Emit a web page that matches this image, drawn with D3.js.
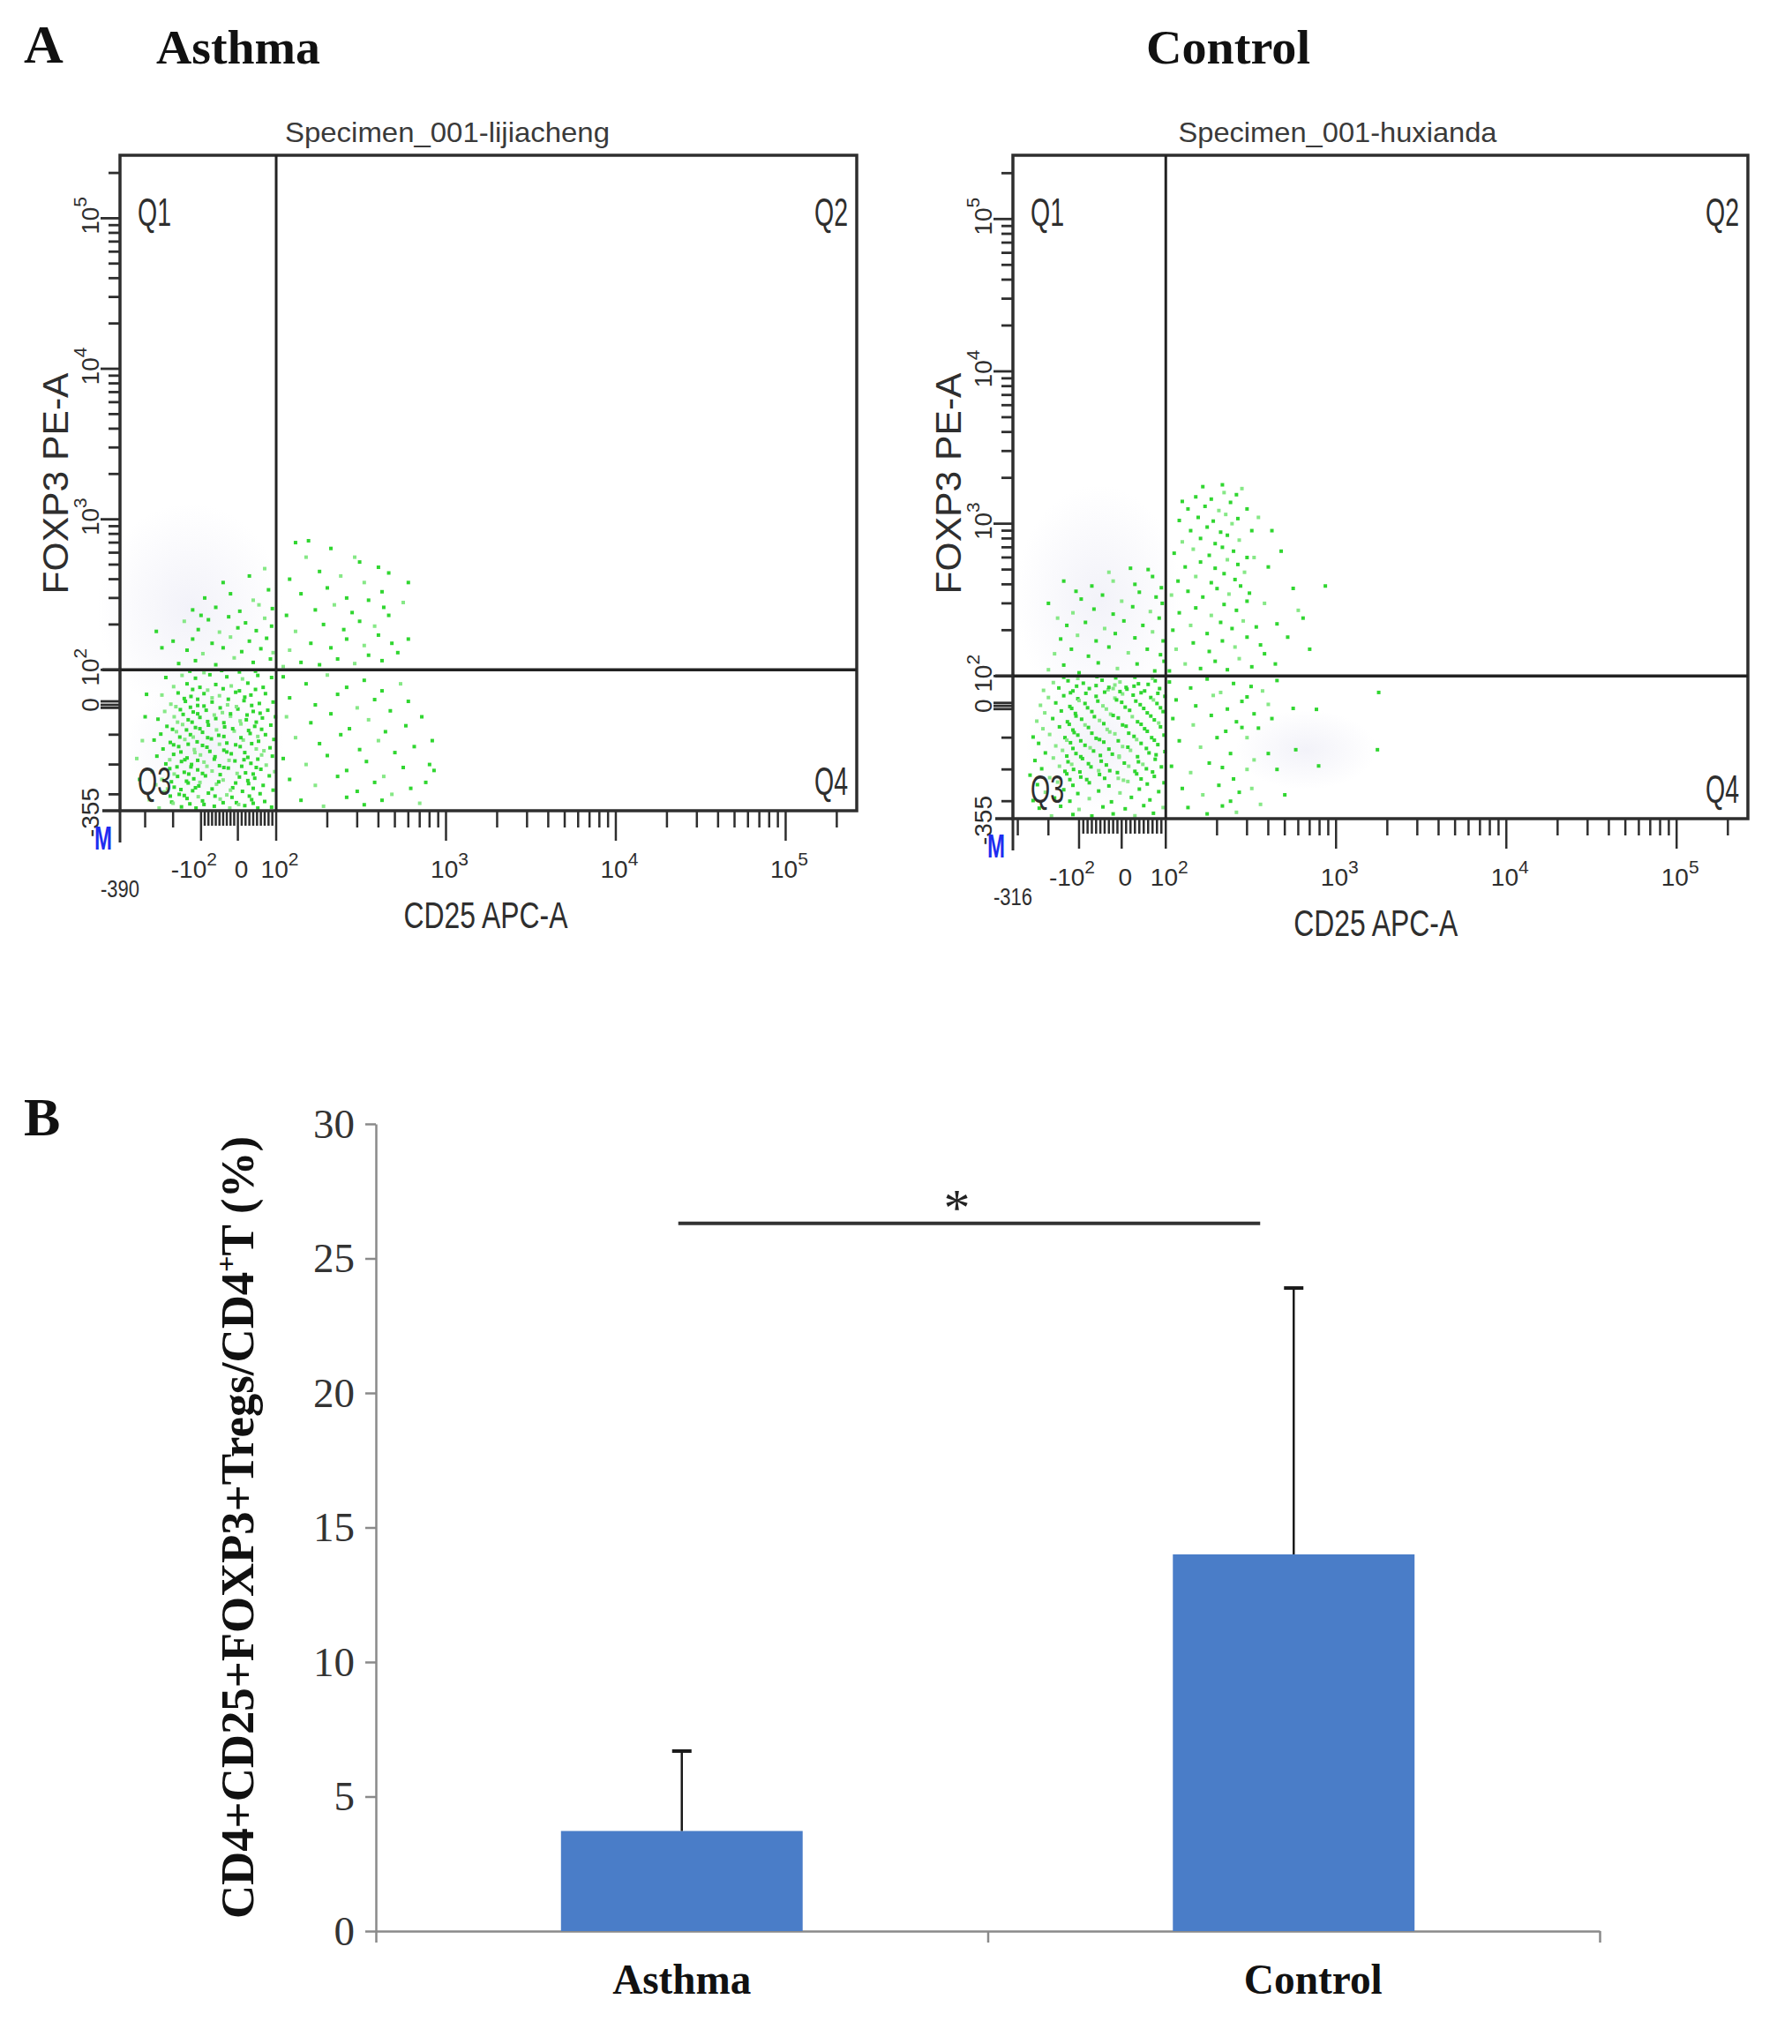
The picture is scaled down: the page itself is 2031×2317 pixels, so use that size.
<!DOCTYPE html>
<html>
<head>
<meta charset="utf-8">
<script src="https://cdn.jsdelivr.net/npm/d3@7"></script>
<style>
  body { margin: 0; background: #fff; }
  svg { display: block; }
</style>
</head>
<body>
<div id="figure"></div>
<script>
// ---------- panel B data ----------
var groups = ["Asthma", "Control"];
var meanValues = [3.72, 14.0];
var sdValues = [2.97, 9.9];
var yTicksB = [0, 5, 10, 15, 20, 25, 30];
var sigLevel = 26.3;
var sigLabel = "*";
var yTitleB = ["CD4+CD25+FOXP3+Tregs/CD4", "+", "T (%)"];

// ---------- panel A data ----------
var specimenTitles = ["Specimen_001-lijiacheng", "Specimen_001-huxianda"];
var quadrantNames = ["Q1", "Q2", "Q3", "Q4"];
var xAxisTitle = "CD25 APC-A";
var yAxisTitle = "FOXP3 PE-A";
var xMinValues = [-390, -316];
var yMinValue = -355;
var maxValue = 262144;
var gateValue = 100;
var xTickValues = [-100, 0, 100, 1000, 10000, 100000];
var xTickBase = ["-10", "0", "10", "10", "10", "10"];
var xTickExp = ["2", "", "2", "3", "4", "5"];
var yTickValues = [0, 100, 1000, 10000, 100000];
var yTickBase = ["0", "10", "10", "10", "10"];
var yTickExp = ["", "2", "3", "4", "5"];
var xLinMinor = [-300, -200];
var yLinMinor = [-100, -200, -300];

// events, [CD25, FOXP3]
var dotsAsthma = [
  // Q3
  [-250,-348],[-170,-342],[-118,-350],[-64,-340],[-22,-346],[18,-338],[52,-349],[88,-343],
  [-285,-318],[-205,-326],[-150,-314],[-96,-322],[-48,-316],[-4,-328],[36,-318],[70,-324],
  [-232,-292],[-178,-300],[-130,-288],[-80,-296],[-30,-302],[12,-290],[58,-298],[92,-286],
  [-262,-268],[-196,-276],[-146,-262],[-108,-272],[-58,-266],[-14,-278],[28,-264],[66,-270],
  [-240,-250],[-184,-240],[-126,-248],[-88,-238],[-40,-252],[4,-242],[44,-246],[82,-238],
  [-275,-224],[-212,-214],[-160,-226],[-112,-218],[-70,-222],[-26,-212],[20,-228],[60,-216],[96,-224],
  [-226,-198],[-170,-190],[-134,-200],[-92,-192],[-50,-204],[-8,-188],[34,-196],[74,-202],
  [-258,-172],[-198,-166],[-150,-178],[-102,-168],[-62,-174],[-18,-164],[26,-176],[62,-168],[90,-172],
  [-236,-148],[-180,-140],[-124,-150],[-84,-142],[-38,-152],[6,-140],[48,-148],[84,-144],
  [-268,-118],[-210,-126],[-158,-116],[-114,-124],[-72,-114],[-30,-128],[14,-118],[54,-122],[94,-116],
  [-244,-98],[-188,-90],[-138,-100],[-96,-92],[-52,-102],[-10,-88],[32,-96],[72,-100],
  [-222,-72],[-166,-66],[-120,-76],[-80,-68],[-36,-74],[8,-64],[44,-72],[86,-68],
  [-254,-48],[-196,-40],[-146,-50],[-104,-42],[-60,-46],[-20,-38],[22,-50],[64,-44],[98,-40],
  [-230,-22],[-174,-16],[-128,-24],[-86,-18],[-42,-26],[0,-14],[40,-22],[78,-18],
  [-208,2],[-156,10],[-112,-2],[-70,8],[-28,0],[16,12],[56,4],[92,8],
  [-240,28],[-182,34],[-136,24],[-92,32],[-50,26],[-6,36],[34,28],[72,32],
  [-198,52],[-150,60],[-104,50],[-60,58],[-18,54],[26,62],[66,50],
  [-226,78],[-168,84],[-120,76],[-76,86],[-30,80],[12,74],[52,84],[88,78],
  [-140,96],[-92,92],[-44,98],[4,94],[46,96],
  [-200,-330],[-140,-332],[-92,-334],[-40,-328],[2,-334],[40,-330],
  [-210,-306],[-160,-304],[-110,-308],[-62,-306],[-16,-310],[30,-306],
  [-220,-282],[-172,-284],[-120,-278],[-70,-282],[-20,-286],[40,-280],
  [-206,-258],[-152,-256],[-104,-260],[-52,-258],[-6,-262],[26,-254],
  [-196,-232],[-144,-232],[-96,-230],[-48,-234],[-2,-230],[40,-232],
  [-186,-208],[-136,-208],[-84,-206],[-38,-210],[10,-206],[48,-210],
  [-212,-184],[-158,-184],[-112,-186],[-64,-182],[-24,-186],[16,-184],[52,-182],
  [-172,-158],[-122,-160],[-76,-156],[-30,-158],[18,-160],[68,-154],
  [-198,-134],[-146,-132],[-96,-136],[-50,-132],[-6,-134],[36,-130],
  [-176,-108],[-128,-108],[-82,-110],[-38,-106],[8,-110],[52,-106],
  [-202,-82],[-152,-84],[-104,-80],[-58,-84],[-14,-80],[28,-86],[62,-82],
  [-184,-58],[-132,-58],[-82,-56],[-38,-60],[6,-54],[48,-58],
  [-164,-32],[-112,-30],[-64,-34],[-20,-30],[24,-34],[58,-28],
  [-190,-6],[-138,-8],[-92,-4],[-48,-10],[-4,-6],[36,-2],
  [-160,18],[-112,16],[-70,20],[-26,16],[18,22],
  [-130,44],[-82,42],[-40,46],[4,40],[46,44],
  [-310,-120],[-300,-40],[-320,-250],[-295,30],[-330,-180],
  // Q1
  [-180,110],[-120,115],[-60,108],[-10,120],[40,112],[85,118],
  [-150,135],[-95,128],[-40,140],[10,132],[60,138],[92,130],
  [-200,155],[-130,160],[-70,150],[-20,165],[30,155],[75,162],
  [-110,185],[-50,178],[0,190],[48,182],[88,195],
  [-160,210],[-80,215],[-25,225],[20,205],[70,220],
  [-130,250],[-60,260],[5,245],[55,270],[90,255],
  [-90,300],[-20,320],[40,290],[80,340],
  [-40,380],[30,420],[70,470],[-100,230],[-240,140],[-260,180],
  // Q2
  [110,105],[140,112],[180,108],[230,118],[290,110],[350,125],[420,115],[520,130],
  [120,135],[160,150],[210,140],[260,160],[330,145],[400,170],[480,150],[600,160],
  [130,180],[190,200],[250,185],[310,210],[380,195],[460,230],
  [115,230],[170,250],[220,270],[280,240],[350,290],[430,260],[560,280],
  [140,320],[200,350],[260,300],[330,380],[420,330],
  [120,400],[180,450],[240,420],[310,520],[400,480],[600,380],
  [150,560],[210,640],[130,700],[155,720],[290,560],[460,440],
  // Q4
  [110,80],[150,60],[200,85],[260,50],[330,70],[420,40],[540,60],
  [120,20],[170,0],[230,30],[300,-10],[380,15],[470,-20],[600,10],
  [115,-40],[160,-60],[210,-30],[270,-80],[350,-50],[440,-90],[580,-70],[720,-40],
  [130,-110],[180,-130],[240,-100],[310,-150],[400,-120],[500,-160],[650,-140],
  [110,-180],[150,-200],[200,-170],[260,-220],[340,-190],[430,-240],[560,-210],[800,-200],
  [120,-250],[170,-270],[230,-240],[300,-290],[380,-260],[480,-300],[620,-280],[850,-220],
  [140,-320],[190,-340],[260,-310],[330,-335],[420,-320],[700,-330],[760,-260],[830,-120]
];

var dotsControl = [
  // Q3
  [-190,-348],[-120,-342],[-70,-350],[-20,-340],[30,-346],[72,-338],
  [-230,-322],[-160,-316],[-100,-326],[-44,-318],[8,-324],[50,-314],[94,-320],
  [-250,-298],[-180,-290],[-130,-300],[-76,-292],[-24,-302],[22,-288],[64,-296],
  [-210,-272],[-150,-264],[-104,-276],[-54,-268],[-4,-274],[40,-262],[84,-270],
  [-236,-248],[-170,-240],[-120,-250],[-76,-242],[-30,-252],[14,-238],[58,-246],[96,-242],
  [-260,-218],[-196,-226],[-140,-214],[-96,-224],[-52,-216],[-8,-228],[34,-214],[74,-222],
  [-222,-198],[-164,-190],[-118,-200],[-72,-192],[-28,-204],[16,-190],[56,-198],[90,-192],
  [-244,-172],[-184,-164],[-136,-176],[-92,-166],[-48,-174],[-6,-162],[38,-176],[76,-168],
  [-210,-148],[-154,-140],[-110,-150],[-66,-142],[-22,-152],[20,-140],[62,-148],[98,-144],
  [-232,-118],[-176,-126],[-128,-116],[-86,-124],[-42,-114],[2,-128],[44,-118],[82,-122],
  [-250,-98],[-196,-90],[-146,-100],[-104,-92],[-60,-102],[-16,-88],[28,-96],[68,-100],[96,-92],
  [-218,-72],[-164,-66],[-120,-76],[-78,-68],[-34,-74],[10,-64],[52,-72],[88,-66],
  [-238,-48],[-186,-40],[-138,-50],[-94,-42],[-52,-46],[-8,-38],[36,-50],[74,-44],
  [-212,-22],[-158,-16],[-112,-24],[-70,-18],[-26,-26],[18,-14],[58,-22],[94,-18],
  [-226,2],[-176,10],[-130,-2],[-86,8],[-44,0],[0,12],[42,4],[80,8],
  [-200,28],[-150,34],[-104,24],[-60,32],[-16,26],[26,36],[66,28],[98,32],
  [-216,52],[-166,60],[-120,50],[-76,58],[-32,54],[10,62],[52,50],[86,58],
  [-184,78],[-136,84],[-90,76],[-46,86],[-4,80],[38,74],[76,84],
  [-150,96],[-104,92],[-58,98],[-14,94],[30,96],[70,92],
  [-130,-232],[-82,-232],[-40,-228],[4,-234],[44,-230],
  [-146,-206],[-98,-208],[-54,-204],[-10,-210],[30,-206],[70,-208],
  [-124,-184],[-78,-182],[-36,-186],[6,-180],[48,-184],
  [-140,-158],[-96,-160],[-50,-156],[-6,-158],[36,-160],[78,-154],
  [-120,-134],[-74,-132],[-30,-136],[14,-130],[56,-134],
  [-140,-108],[-96,-110],[-52,-106],[-8,-110],[34,-106],[74,-108],
  [-116,-84],[-70,-86],[-28,-82],[16,-86],[58,-80],
  [-132,-58],[-86,-60],[-42,-56],[2,-60],[44,-58],[84,-54],
  [-110,-32],[-64,-34],[-20,-30],[24,-34],[66,-32],
  [-124,-8],[-80,-6],[-36,-10],[8,-4],[50,-8],[88,-6],
  [-100,18],[-56,16],[-12,20],[32,16],[72,20],
  [-128,44],[-84,42],[-40,46],[2,40],[44,44],[82,42],
  [-60,68],[-16,70],[28,66],[60,72],[-108,66],
  [-20,58],[-4,48],[-30,62],[12,56],
  // Q1
  [-200,110],[-150,118],[-100,105],[-55,122],[-10,112],[35,120],[75,108],[96,125],
  [-180,140],[-125,150],[-78,135],[-30,155],[15,142],[58,150],[88,138],
  [-160,175],[-105,185],[-60,170],[-15,190],[30,178],[70,195],[94,170],
  [-140,215],[-85,225],[-40,205],[5,230],[48,215],[85,240],
  [-120,260],[-65,275],[-20,255],[25,285],[65,265],[92,300],
  [-95,320],[-45,340],[0,310],[40,355],[78,330],
  [-70,390],[-20,420],[30,400],[70,450],[90,380],
  [-30,480],[20,510],[60,500],[-110,360],[-170,240],[-200,300],[-150,420],
  // Q2
  [105,108],[130,120],[160,112],[195,125],[230,110],[270,130],[320,115],[380,140],[440,120],
  [115,150],[145,165],[180,145],[215,170],[255,155],[300,180],[360,160],
  [110,200],[140,215],[175,190],[210,225],[245,205],[285,230],[340,210],
  [120,260],[150,280],[185,250],[220,295],[260,270],[300,310],
  [108,340],[135,360],[165,330],[200,375],[235,345],[275,390],[310,350],
  [118,420],[150,450],[185,410],[220,470],[255,430],[290,480],
  [130,520],[160,560],[195,510],[230,580],[265,540],[300,600],
  [112,640],[145,680],[180,620],[215,700],[250,660],
  [125,760],[160,800],[195,740],[230,840],[270,780],
  [140,900],[175,950],[210,880],[245,1000],[120,1050],
  [155,1100],[190,1040],[225,1150],[265,1080],
  [135,1250],[170,1300],[205,1220],[240,1380],
  [150,1500],[185,1450],[220,1600],[260,1550],
  [165,1750],[215,1800],[280,1700],[125,1400],[300,1250],[320,900],[330,600],
  [476,660],[560,376],[865,390],[600,270],[640,240],[450,220],[400,520],[380,300],[520,180],[700,150],[420,900],[350,1100],
  // Q4
  [105,80],[140,60],[175,90],[210,45],[250,75],[300,30],[317,65],[370,50],[450,85],
  [115,20],[150,0],[190,35],[230,-10],[280,15],[330,-25],[400,5],[560,-8],[767,-11],
  [110,-40],[145,-60],[185,-30],[225,-80],[260,-50],[300,-100],[350,-70],[420,-40],
  [120,-110],[160,-130],[200,-100],[240,-150],[280,-68],[330,-170],[400,-150],[580,-138],
  [108,-190],[140,-210],[180,-180],[215,-194],[250,-230],[300,-200],[450,-200],[790,-189],
  [125,-260],[165,-280],[205,-250],[240,-300],[270,-272],[320,-260],
  [135,-320],[175,-340],[215,-315],[260,-335],
  [1750,-138],[1780,45],[500,-280],[360,-310]
];

// faint density background behind the events
var hazeAsthma = [[-141, 254], [-90, -150]];
var hazeControl = [[-55, 317], [665, -138], [-60, -120]];

// ---------- layout ----------
var sans = "'Liberation Sans', Arial, sans-serif";
var serif = "'Liberation Serif', 'Times New Roman', serif";
var ink = "#2e2e2e";

var svg = d3.select("#figure").append("svg")
  .attr("width", 2031)
  .attr("height", 2317);
svg.append("rect").attr("width", 2031).attr("height", 2317).attr("fill", "#fff");

var defs = svg.append("defs");
var grad = defs.append("radialGradient").attr("id", "haze");
grad.append("stop").attr("offset", "0%").attr("stop-color", "#eaeaf5").attr("stop-opacity", 0.6);
grad.append("stop").attr("offset", "100%").attr("stop-color", "#eaeaf5").attr("stop-opacity", 0);

var flowPanels = [
  { header: groups[0], headerX: 270, title: specimenTitles[0], titleX: 507, titleLen: 368,
    x0: 136, x1: 971, y0: 176, y1: 919, xmin: xMinValues[0],
    xFrac: [0, 0.11, 0.16, 0.212], yFrac: [0, 0.1615, 0.215],
    dots: dotsAsthma, haze: hazeAsthma, hazeR: [[105, 120], [90, 80]] },
  { header: groups[1], headerX: 1392, title: specimenTitles[1], titleX: 1516, titleLen: 361,
    x0: 1148, x1: 1981, y0: 176, y1: 928, xmin: xMinValues[1],
    xFrac: [0, 0.09, 0.148, 0.208], yFrac: [0, 0.17, 0.215],
    dots: dotsControl, haze: hazeControl, hazeR: [[95, 130], [80, 45], [80, 80]] }
];

// panel letters
svg.append("text").attr("x", 27).attr("y", 71).text("A")
  .style("font-family", serif).style("font-weight", "bold").style("font-size", "62px").attr("fill", "#111");
svg.append("text").attr("x", 27).attr("y", 1287).text("B")
  .style("font-family", serif).style("font-weight", "bold").style("font-size", "62px").attr("fill", "#111");

flowPanels.forEach(drawFlow);
drawBars();

function drawFlow(p) {
  var g = svg.append("g");
  var W = p.x1 - p.x0, H = p.y1 - p.y0;

  // logicle-like display: linear around zero, log above 10^2
  var xLin = d3.scaleLinear().domain([p.xmin, -100, 0, 100])
    .range(p.xFrac.map(function (f) { return p.x0 + f * W; }));
  var xLog = d3.scaleLog().domain([100, maxValue]).range([p.x0 + p.xFrac[3] * W, p.x1]);
  var yLin = d3.scaleLinear().domain([yMinValue, 0, 100])
    .range(p.yFrac.map(function (f) { return p.y1 - f * H; }));
  var yLog = d3.scaleLog().domain([100, maxValue]).range([p.y1 - p.yFrac[2] * H, p.y0]);
  function X(v) { return v <= 100 ? xLin(v) : xLog(v); }
  function Y(v) { return v <= 100 ? yLin(v) : yLog(v); }

  // header and title
  g.append("text").attr("x", p.headerX).attr("y", 72).attr("text-anchor", "middle")
    .attr("textLength", 186).attr("lengthAdjust", "spacingAndGlyphs")
    .style("font-family", serif).style("font-weight", "bold").style("font-size", "55px")
    .attr("fill", "#111").text(p.header);
  g.append("text").attr("x", p.titleX).attr("y", 161).attr("text-anchor", "middle")
    .attr("textLength", p.titleLen).attr("lengthAdjust", "spacingAndGlyphs")
    .style("font-family", sans).style("font-size", "32px").attr("fill", "#3a3a3a").text(p.title);

  // density haze
  g.selectAll(".haze").data(p.haze).enter().append("ellipse")
    .attr("cx", function (d) { return X(d[0]); })
    .attr("cy", function (d) { return Y(d[1]); })
    .attr("rx", function (d, i) { return p.hazeR[i][0]; })
    .attr("ry", function (d, i) { return p.hazeR[i][1]; })
    .attr("fill", "url(#haze)");

  // events
  g.selectAll(".dot").data(p.dots).enter().append("rect")
    .attr("x", function (d) { return X(d[0]) - 2; })
    .attr("y", function (d) { return Math.min(Y(d[1]), p.y1 - 3) - 2; })
    .attr("width", 4).attr("height", 4)
    .attr("fill", function (d, i) { return i % 4 === 0 ? "#86e886" : "#30d630"; });

  // frame
  g.append("rect").attr("x", p.x0).attr("y", p.y0).attr("width", W).attr("height", H)
    .attr("fill", "none").attr("stroke", ink).attr("stroke-width", 3.5);
  g.append("line").attr("x1", p.x0 - 20).attr("x2", p.x0).attr("y1", p.y1).attr("y2", p.y1)
    .attr("stroke", ink).attr("stroke-width", 3.5);
  g.append("line").attr("x1", p.x0).attr("x2", p.x0).attr("y1", p.y1).attr("y2", p.y1 + 36)
    .attr("stroke", ink).attr("stroke-width", 3);

  // quadrant gates
  g.append("line").attr("x1", X(gateValue)).attr("x2", X(gateValue)).attr("y1", p.y0).attr("y2", p.y1)
    .attr("stroke", "#222").attr("stroke-width", 3);
  g.append("line").attr("x1", p.x0 - 20).attr("x2", p.x1).attr("y1", Y(gateValue)).attr("y2", Y(gateValue))
    .attr("stroke", "#222").attr("stroke-width", 3.5);

  // x ticks
  var xt = [];
  xLinMinor.filter(function (v) { return v > p.xmin; }).forEach(function (v) { xt.push([v, 19]); });
  d3.range(-90, 100, 10).forEach(function (v) { if (v !== 0) xt.push([v, 17]); });
  xLog.ticks().forEach(function (v) {
    var e = Math.log10(v);
    if (Math.abs(e - Math.round(e)) > 1e-6) xt.push([v, 19]);
  });
  xTickValues.forEach(function (v) { xt.push([v, 34]); });
  g.selectAll(".xt").data(xt).enter().append("line")
    .attr("x1", function (d) { return X(d[0]); }).attr("x2", function (d) { return X(d[0]); })
    .attr("y1", p.y1).attr("y2", function (d) { return p.y1 + d[1]; })
    .attr("stroke", ink).attr("stroke-width", 2.5);

  // y ticks
  var yt = [];
  yLinMinor.forEach(function (v) { yt.push([v, 13]); });
  [-10, 10].forEach(function (v) { yt.push([v, 22]); });
  yLog.ticks().forEach(function (v) {
    var e = Math.log10(v);
    if (Math.abs(e - Math.round(e)) > 1e-6) yt.push([v, 13]);
  });
  yTickValues.forEach(function (v) { yt.push([v, 22]); });
  g.selectAll(".yt").data(yt).enter().append("line")
    .attr("y1", function (d) { return Y(d[0]); }).attr("y2", function (d) { return Y(d[0]); })
    .attr("x1", p.x0).attr("x2", function (d) { return p.x0 - d[1]; })
    .attr("stroke", ink).attr("stroke-width", 2.8);

  // x tick labels
  xTickValues.forEach(function (v, i) {
    var t = g.append("text").attr("x", X(v) + (v < 0 ? -8 : 4)).attr("y", p.y1 + 76)
      .attr("text-anchor", "middle").style("font-family", sans).style("font-size", "28px")
      .attr("fill", ink).text(xTickBase[i]);
    if (xTickExp[i]) t.append("tspan").attr("dy", -14).style("font-size", "21px").text(xTickExp[i]);
  });
  g.append("text").attr("x", p.x0).attr("y", p.y1 + 98).attr("text-anchor", "middle")
    .style("font-family", sans).style("font-size", "27px").attr("fill", ink)
    .attr("textLength", 44).attr("lengthAdjust", "spacingAndGlyphs").text(String(p.xmin));

  // y tick labels (rotated)
  yTickValues.forEach(function (v, i) {
    var t = g.append("text").attr("transform", "translate(" + (p.x0 - 24) + "," + (Y(v) - (v === 0 ? 0 : 3)) + ") rotate(-90)")
      .attr("text-anchor", "middle").style("font-family", sans).style("font-size", "28px")
      .attr("fill", ink).text(yTickBase[i]);
    if (yTickExp[i]) t.append("tspan").attr("dy", -14).style("font-size", "21px").text(yTickExp[i]);
  });
  g.append("text").attr("transform", "translate(" + (p.x0 - 24) + "," + (p.y1 + 2) + ") rotate(-90)")
    .attr("text-anchor", "middle").style("font-family", sans).style("font-size", "27px")
    .attr("fill", ink).attr("textLength", 56).attr("lengthAdjust", "spacingAndGlyphs")
    .text(String(yMinValue));

  // blue marker
  g.append("text").attr("x", p.x0 - 19).attr("y", p.y1 + 44).attr("text-anchor", "middle")
    .attr("textLength", 20).attr("lengthAdjust", "spacingAndGlyphs")
    .style("font-family", sans).style("font-weight", "bold").style("font-size", "36px")
    .attr("fill", "#1e2cf0").text("M");

  // axis titles
  g.append("text").attr("x", X(1000) + 45).attr("y", p.y1 + 133).attr("text-anchor", "middle")
    .attr("textLength", 186).attr("lengthAdjust", "spacingAndGlyphs")
    .style("font-family", sans).style("font-size", "42px").attr("fill", ink).text(xAxisTitle);
  g.append("text").attr("transform", "translate(" + (p.x0 - 59) + "," + (p.y0 + 372) + ") rotate(-90)")
    .attr("text-anchor", "middle").attr("textLength", 251).attr("lengthAdjust", "spacingAndGlyphs")
    .style("font-family", sans).style("font-size", "40px").attr("fill", ink).text(yAxisTitle);

  // quadrant names
  var qpos = [
    [p.x0 + 20, p.y0 + 80, "start"], [p.x1 - 10, p.y0 + 80, "end"],
    [p.x0 + 20, p.y1 - 18, "start"], [p.x1 - 10, p.y1 - 18, "end"]
  ];
  quadrantNames.forEach(function (q, i) {
    g.append("text").attr("x", qpos[i][0]).attr("y", qpos[i][1]).attr("text-anchor", qpos[i][2])
      .attr("textLength", 38).attr("lengthAdjust", "spacingAndGlyphs")
      .style("font-family", sans).style("font-size", "44px").attr("fill", ink).text(q);
  });
}

function drawBars() {
  var left = 426, right = 1813, bottom = 2189, top = 1274;
  var labelShift = [0, 22];
  var g = svg.append("g");

  var x = d3.scaleBand().domain(groups).range([left, right])
    .paddingInner(0.605).paddingOuter(0.3025);
  var y = d3.scaleLinear().domain([0, 30]).range([bottom, top]);
  var bw = x.bandwidth();

  // y axis
  var ya = g.append("g").attr("transform", "translate(" + left + ",0)")
    .call(d3.axisLeft(y).tickValues(yTicksB).tickSize(12).tickSizeOuter(0).tickPadding(12));
  ya.select(".domain").attr("stroke", "#8a8a8a").attr("stroke-width", 2.5);
  ya.selectAll(".tick line").attr("stroke", "#8a8a8a").attr("stroke-width", 2.5);
  ya.selectAll(".tick text").style("font-family", serif).style("font-size", "47px").attr("fill", "#333");

  // x axis with ticks at the category boundaries
  var edge = d3.scaleLinear().domain([0, groups.length]).range([left, right]);
  var xa = g.append("g").attr("transform", "translate(0," + bottom + ")")
    .call(d3.axisBottom(edge).tickValues(d3.range(groups.length + 1)).tickFormat("").tickSize(13).tickSizeOuter(0));
  xa.select(".domain").attr("stroke", "#8a8a8a").attr("stroke-width", 2.5);
  xa.selectAll(".tick line").attr("stroke", "#8a8a8a").attr("stroke-width", 2.5);

  // bars
  g.selectAll(".bar").data(groups).enter().append("rect")
    .attr("x", function (d) { return x(d); })
    .attr("width", bw)
    .attr("y", function (d, i) { return y(meanValues[i]); })
    .attr("height", function (d, i) { return bottom - y(meanValues[i]); })
    .attr("fill", "#4a7dc8");

  // error bars (upper only)
  g.selectAll(".err").data(groups).enter().append("line")
    .attr("x1", function (d) { return x(d) + bw / 2; })
    .attr("x2", function (d) { return x(d) + bw / 2; })
    .attr("y1", function (d, i) { return y(meanValues[i]); })
    .attr("y2", function (d, i) { return y(meanValues[i] + sdValues[i]); })
    .attr("stroke", "#1a1a1a").attr("stroke-width", 2.5);
  g.selectAll(".cap").data(groups).enter().append("line")
    .attr("x1", function (d) { return x(d) + bw / 2 - 11; })
    .attr("x2", function (d) { return x(d) + bw / 2 + 11; })
    .attr("y1", function (d, i) { return y(meanValues[i] + sdValues[i]); })
    .attr("y2", function (d, i) { return y(meanValues[i] + sdValues[i]); })
    .attr("stroke", "#1a1a1a").attr("stroke-width", 4);

  // category labels
  g.selectAll(".cat").data(groups).enter().append("text")
    .attr("x", function (d, i) { return x(d) + bw / 2 + labelShift[i]; })
    .attr("y", 2260).attr("text-anchor", "middle")
    .attr("textLength", 157).attr("lengthAdjust", "spacingAndGlyphs")
    .style("font-family", serif).style("font-weight", "bold").style("font-size", "48px")
    .attr("fill", "#111").text(function (d) { return d; });

  // significance bar
  var sx1 = x(groups[0]) + bw / 2 - 4, sx2 = x(groups[1]) + bw / 2 - 38;
  g.append("line").attr("x1", sx1).attr("x2", sx2).attr("y1", y(sigLevel)).attr("y2", y(sigLevel))
    .attr("stroke", "#333").attr("stroke-width", 4);
  g.append("text").attr("x", (sx1 + sx2) / 2 - 14).attr("y", y(sigLevel) + 2).attr("text-anchor", "middle")
    .style("font-family", serif).style("font-size", "60px").attr("fill", "#222").text(sigLabel);

  // y title
  var yt = g.append("text").attr("transform", "translate(287," + (top + bottom) / 2 + ") rotate(-90)")
    .attr("text-anchor", "middle").attr("textLength", 887).attr("lengthAdjust", "spacingAndGlyphs")
    .style("font-family", serif).style("font-weight", "bold").style("font-size", "52px").attr("fill", "#111");
  yt.append("tspan").text(yTitleB[0]);
  yt.append("tspan").attr("dy", -20).style("font-size", "32px").text(yTitleB[1]);
  yt.append("tspan").attr("dy", 20).text(yTitleB[2]);
}
</script>
</body>
</html>
